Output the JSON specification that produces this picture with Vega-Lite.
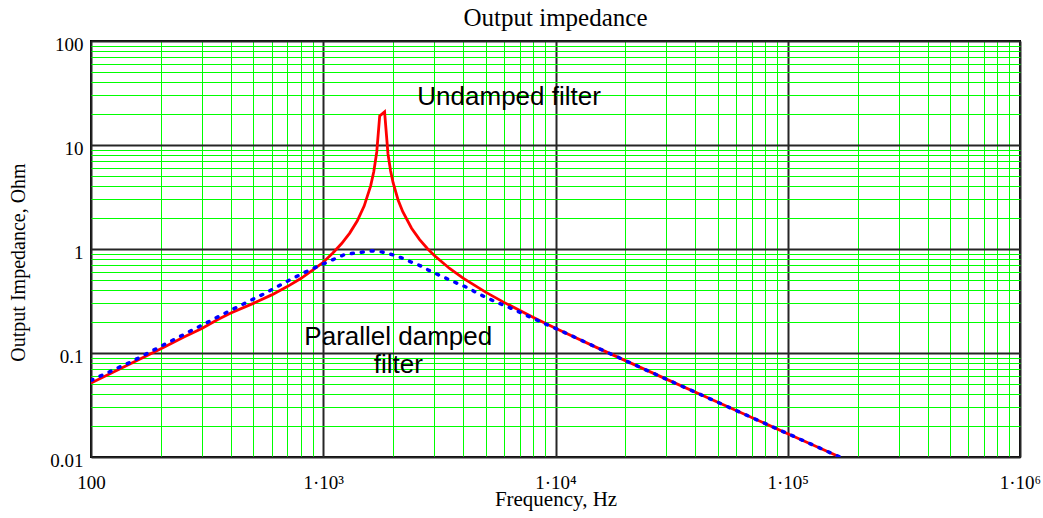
{
  "$schema": "https://vega.github.io/schema/vega-lite/v6.json",
  "width": 929,
  "height": 416,
  "autosize": {"type": "none"},
  "padding": {"left": 91, "top": 41, "right": 23, "bottom": 61},
  "background": "white",
  "title": {"text": "Output impedance", "font": "Liberation Serif", "fontSize": 25, "fontWeight": "normal", "color": "black", "anchor": "middle", "offset": -16, "baseline": "alphabetic"},
  "config": {
    "view": {"stroke": "black", "strokeWidth": 2},
    "axis": {
      "grid": true,
      "ticks": false,
      "tickSize": 0,
      "domain": false,
      "labelFont": "Liberation Serif",
      "labelFontSize": 19,
      "labelColor": "black",
      "labelOverlap": false,
      "labelBound": false,
      "labelFlush": false,
      "titleFont": "Liberation Serif",
      "titleFontSize": 20,
      "titleFontWeight": "normal",
      "titleColor": "black",
      "gridOpacity": 1
    }
  },
  "datasets": {
    "imp": [
      {"f": 100, "z": 0.0515, "s": "undamped"},
      {"f": 150, "z": 0.080, "s": "undamped"},
      {"f": 200, "z": 0.110, "s": "undamped"},
      {"f": 250, "z": 0.1416, "s": "undamped"},
      {"f": 300, "z": 0.172, "s": "undamped"},
      {"f": 350, "z": 0.2085, "s": "undamped"},
      {"f": 400, "z": 0.243, "s": "undamped"},
      {"f": 500, "z": 0.300, "s": "undamped"},
      {"f": 600, "z": 0.362, "s": "undamped"},
      {"f": 700, "z": 0.435, "s": "undamped"},
      {"f": 800, "z": 0.52, "s": "undamped"},
      {"f": 900, "z": 0.625, "s": "undamped"},
      {"f": 1000, "z": 0.745, "s": "undamped"},
      {"f": 1100, "z": 0.916, "s": "undamped"},
      {"f": 1200, "z": 1.128, "s": "undamped"},
      {"f": 1300, "z": 1.422, "s": "undamped"},
      {"f": 1400, "z": 1.859, "s": "undamped"},
      {"f": 1500, "z": 2.585, "s": "undamped"},
      {"f": 1600, "z": 4.049, "s": "undamped"},
      {"f": 1650, "z": 5.534, "s": "undamped"},
      {"f": 1700, "z": 8.58, "s": "undamped"},
      {"f": 1750, "z": 19.0, "s": "undamped"},
      {"f": 1837, "z": 20.8, "s": "undamped"},
      {"f": 1900, "z": 8.2, "s": "undamped"},
      {"f": 1950, "z": 5.63, "s": "undamped"},
      {"f": 2000, "z": 4.31, "s": "undamped"},
      {"f": 2100, "z": 2.96, "s": "undamped"},
      {"f": 2200, "z": 2.28, "s": "undamped"},
      {"f": 2400, "z": 1.584, "s": "undamped"},
      {"f": 2600, "z": 1.231, "s": "undamped"},
      {"f": 2800, "z": 1.016, "s": "undamped"},
      {"f": 3000, "z": 0.870, "s": "undamped"},
      {"f": 3500, "z": 0.6495, "s": "undamped"},
      {"f": 4000, "z": 0.5245, "s": "undamped"},
      {"f": 5000, "z": 0.3846, "s": "undamped"},
      {"f": 6000, "z": 0.3067, "s": "undamped"},
      {"f": 8000, "z": 0.2205, "s": "undamped"},
      {"f": 10000, "z": 0.1731, "s": "undamped"},
      {"f": 15000, "z": 0.1133, "s": "undamped"},
      {"f": 20000, "z": 0.08445, "s": "undamped"},
      {"f": 30000, "z": 0.05605, "s": "undamped"},
      {"f": 50000, "z": 0.03355, "s": "undamped"},
      {"f": 100000, "z": 0.01676, "s": "undamped"},
      {"f": 167600, "z": 0.0100, "s": "undamped"},
      {"f": 100, "z": 0.0545, "s": "damped"},
      {"f": 150, "z": 0.083, "s": "damped"},
      {"f": 200, "z": 0.116, "s": "damped"},
      {"f": 300, "z": 0.185, "s": "damped"},
      {"f": 400, "z": 0.258, "s": "damped"},
      {"f": 500, "z": 0.33, "s": "damped"},
      {"f": 568, "z": 0.38, "s": "damped"},
      {"f": 688, "z": 0.48, "s": "damped"},
      {"f": 836, "z": 0.60, "s": "damped"},
      {"f": 1003, "z": 0.72, "s": "damped"},
      {"f": 1108, "z": 0.796, "s": "damped"},
      {"f": 1223, "z": 0.876, "s": "damped"},
      {"f": 1351, "z": 0.912, "s": "damped"},
      {"f": 1483, "z": 0.935, "s": "damped"},
      {"f": 1632, "z": 0.96, "s": "damped"},
      {"f": 1796, "z": 0.935, "s": "damped"},
      {"f": 1964, "z": 0.889, "s": "damped"},
      {"f": 2162, "z": 0.825, "s": "damped"},
      {"f": 2388, "z": 0.750, "s": "damped"},
      {"f": 2619, "z": 0.690, "s": "damped"},
      {"f": 2892, "z": 0.612, "s": "damped"},
      {"f": 3194, "z": 0.554, "s": "damped"},
      {"f": 3503, "z": 0.504, "s": "damped"},
      {"f": 3830, "z": 0.461, "s": "damped"},
      {"f": 4229, "z": 0.42, "s": "damped"},
      {"f": 4644, "z": 0.372, "s": "damped"},
      {"f": 5108, "z": 0.336, "s": "damped"},
      {"f": 5607, "z": 0.305, "s": "damped"},
      {"f": 6191, "z": 0.28, "s": "damped"},
      {"f": 7499, "z": 0.23, "s": "damped"},
      {"f": 9055, "z": 0.19, "s": "damped"},
      {"f": 10965, "z": 0.157, "s": "damped"},
      {"f": 15000, "z": 0.1133, "s": "damped"},
      {"f": 20000, "z": 0.08445, "s": "damped"},
      {"f": 30000, "z": 0.05605, "s": "damped"},
      {"f": 50000, "z": 0.03355, "s": "damped"},
      {"f": 100000, "z": 0.01676, "s": "damped"},
      {"f": 167600, "z": 0.0100, "s": "damped"}
    ]
  },
  "layer": [
    {
      "data": {"name": "imp"},
      "transform": [{"filter": "datum.s == 'undamped'"}],
      "mark": {"type": "line", "color": "#ff0000", "strokeWidth": 2.8, "clip": true},
      "encoding": {
        "x": {
          "field": "f",
          "type": "quantitative",
          "scale": {"type": "log", "domain": [100, 1000000], "nice": false},
          "axis": {
            "title": "Frequency, Hz",
            "titleFontSize": 21,
            "values": [100, 200, 300, 400, 500, 600, 700, 800, 900, 1000, 2000, 3000, 4000, 5000, 6000, 7000, 8000, 9000, 10000, 20000, 30000, 40000, 50000, 60000, 70000, 80000, 90000, 100000, 200000, 300000, 400000, 500000, 600000, 700000, 800000, 900000, 1000000],
            "labelExpr": "datum.value == 100 ? '100' : datum.value == 1000 ? '1·10³' : datum.value == 10000 ? '1·10⁴' : datum.value == 100000 ? '1·10⁵' : datum.value == 1000000 ? '1·10⁶' : ''",
            "gridColor": {"condition": {"test": "indexof([100,1000,10000,100000,1000000], datum.value) >= 0", "value": "#262626"}, "value": "#00ff00"},
            "gridWidth": {"condition": {"test": "indexof([100,1000,10000,100000,1000000], datum.value) >= 0", "value": 2}, "value": 1},
            "labelPadding": 16,
            "titleY": 48,
            "titleBaseline": "alphabetic"
          }
        },
        "y": {
          "field": "z",
          "type": "quantitative",
          "scale": {"type": "log", "domain": [0.01, 100], "nice": false},
          "axis": {
            "title": "Output Impedance, Ohm",
            "values": [0.01, 0.02, 0.03, 0.04, 0.05, 0.06, 0.07, 0.08, 0.09, 0.1, 0.2, 0.3, 0.4, 0.5, 0.6, 0.7, 0.8, 0.9, 1, 2, 3, 4, 5, 6, 7, 8, 9, 10, 20, 30, 40, 50, 60, 70, 80, 90, 100],
            "labelExpr": "datum.value == 0.01 ? '0.01' : datum.value == 0.1 ? '0.1' : datum.value == 1 ? '1' : datum.value == 10 ? '10' : datum.value == 100 ? '100' : ''",
            "gridColor": {"condition": {"test": "indexof([0.01,0.1,1,10,100], datum.value) >= 0", "value": "#262626"}, "value": "#00ff00"},
            "gridWidth": {"condition": {"test": "indexof([0.01,0.1,1,10,100], datum.value) >= 0", "value": 2}, "value": 1},
            "labelPadding": 8,
            "labelBaseline": "middle",
            "labelOffset": 3,
            "titleX": -73,
            "titleY": 221,
            "titleAngle": -90,
            "titleAlign": "center",
            "titleBaseline": "middle"
          }
        }
      }
    },
    {
      "data": {"name": "imp"},
      "transform": [{"filter": "datum.s == 'damped'"}],
      "mark": {"type": "line", "color": "#0000ff", "strokeWidth": 3.5, "strokeDash": [2, 8], "strokeCap": "round", "clip": true},
      "encoding": {
        "x": {"field": "f", "type": "quantitative", "scale": {"type": "log", "domain": [100, 1000000], "nice": false}},
        "y": {"field": "z", "type": "quantitative", "scale": {"type": "log", "domain": [0.01, 100], "nice": false}}
      }
    },
    {
      "data": {"values": [{}]},
      "mark": {"type": "text", "font": "Liberation Sans", "fontSize": 26, "align": "left", "baseline": "middle", "color": "black"},
      "encoding": {
        "x": {"datum": 2541, "type": "quantitative"},
        "y": {"datum": 28.9, "type": "quantitative"},
        "text": {"value": "Undamped filter"}
      }
    },
    {
      "data": {"values": [{}]},
      "mark": {"type": "text", "font": "Liberation Sans", "fontSize": 26, "align": "center", "baseline": "middle", "lineHeight": 28, "color": "black"},
      "encoding": {
        "x": {"datum": 2104, "type": "quantitative"},
        "y": {"datum": 0.1425, "type": "quantitative"},
        "text": {"value": ["Parallel damped", "filter"]}
      }
    }
  ]
}
